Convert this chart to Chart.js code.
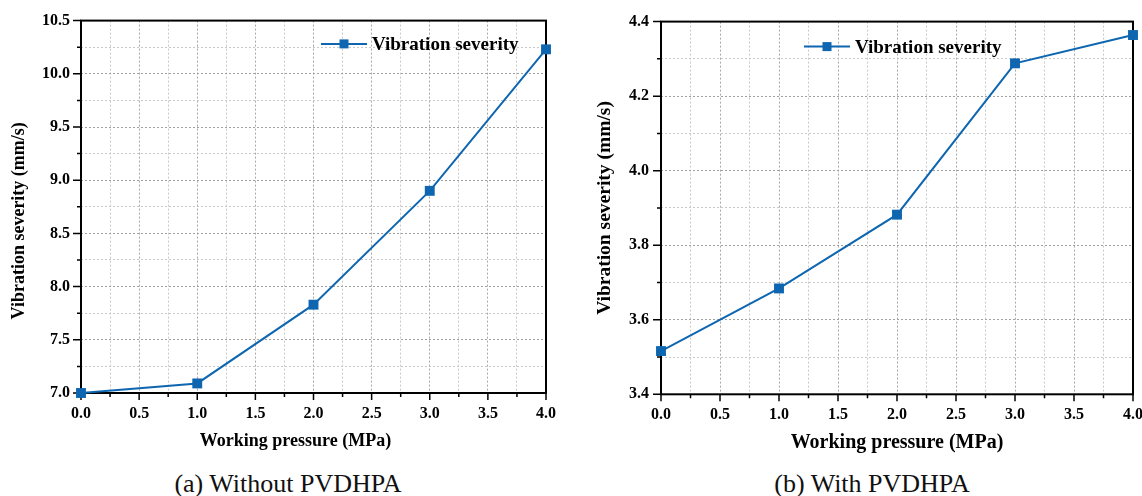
<!DOCTYPE html>
<html>
<head>
<meta charset="utf-8">
<script src="https://cdn.jsdelivr.net/npm/chart.js@4.4.0/dist/chart.umd.min.js"></script>
<style>
  html, body { margin: 0; padding: 0; background: #fff; overflow: hidden; }
  body { width: 1142px; height: 496px; position: relative; font-family: "Liberation Serif", "Times New Roman", serif; }
  .panel { position: absolute; top: 0; height: 455px; }
  #panelA { left: 0; width: 570px; }
  #panelB { left: 580px; width: 580px; }
  .caption { position: absolute; top: 469px; font-size: 26px; line-height: 30px; white-space: nowrap; transform: translateX(-50%); color: #111; }
</style>
</head>
<body>
<div class="panel" id="panelA"><canvas id="chartA"></canvas></div>
<div class="panel" id="panelB"><canvas id="chartB"></canvas></div>
<div class="caption" style="left:288px">(a) Without PVDHPA</div>
<div class="caption" style="left:872px">(b) With PVDHPA</div>

<script>
// Data
const pressure = [0, 1, 2, 3, 4];
const severityWithout = [7.0, 7.09, 7.83, 8.90, 10.23];
const severityWith = [3.516, 3.684, 3.882, 4.288, 4.364];

// Axis ranges / tick steps
const xRange = { min: 0, max: 4, step: 0.25, major: 0.5 };
const yRangeA = { min: 7.0, max: 10.5, step: 0.25, major: 0.5 };
const yRangeB = { min: 3.4, max: 4.4, step: 0.1, major: 0.2 };

const seriesLabel = 'Vibration severity';
const xTitle = 'Working pressure (MPa)';
const yTitle = 'Vibration severity (mm/s)';

const lineColor = '#0e66b0';
const serif = '"Liberation Serif", "Times New Roman", serif';
Chart.defaults.font.family = serif;
Chart.defaults.color = '#000';

function isMajor(v, major) {
    return Math.abs(v / major - Math.round(v / major)) < 1e-6;
}

// frame, outward tick marks and axis titles, drawn under the data
const framePlugin = {
    id: 'frame',
    beforeDatasetsDraw(chart, args, opts) {
        const { ctx, chartArea: a, scales } = chart;
        ctx.save();
        ctx.strokeStyle = '#000';
        ctx.lineWidth = 1.5;
        ctx.beginPath();
        scales.x.ticks.forEach(t => {
            const px = scales.x.getPixelForValue(t.value);
            const len = isMajor(t.value, xRange.major) ? 7 : 4;
            ctx.moveTo(px, a.bottom);
            ctx.lineTo(px, a.bottom + len);
        });
        scales.y.ticks.forEach(t => {
            const py = scales.y.getPixelForValue(t.value);
            const len = isMajor(t.value, opts.yMajor) ? 8 : 4;
            ctx.moveTo(a.left, py);
            ctx.lineTo(a.left - len, py);
        });
        ctx.stroke();
        ctx.lineWidth = 2;
        ctx.strokeRect(a.left, a.top, a.right - a.left, a.bottom - a.top);

        ctx.fillStyle = '#000';
        ctx.textAlign = 'center';
        ctx.textBaseline = 'middle';
        // x-axis title
        ctx.font = 'bold ' + opts.xTitleSize + 'px ' + serif;
        ctx.fillText(xTitle, (a.left + a.right) / 2 + opts.xTitleShift, opts.xTitleY);
        // rotated y-axis title
        ctx.translate(opts.yTitleX, (a.top + a.bottom) / 2 + opts.yTitleShift);
        ctx.rotate(-Math.PI / 2);
        ctx.font = 'bold ' + opts.yTitleSize + 'px ' + serif;
        ctx.fillText(yTitle, 0, 0);
        ctx.restore();
    }
};

// line + square marker legend inside the plot
const legendPlugin = {
    id: 'lineLegend',
    afterDraw(chart, args, opts) {
        const { ctx, chartArea: a } = chart;
        const ds = chart.data.datasets[0];
        const x0 = a.left + opts.dx;
        const y = a.top + opts.dy;
        ctx.save();
        ctx.strokeStyle = ds.borderColor;
        ctx.lineWidth = 2;
        ctx.beginPath();
        ctx.moveTo(x0, y);
        ctx.lineTo(x0 + 46, y);
        ctx.stroke();
        ctx.fillStyle = ds.backgroundColor;
        ctx.fillRect(x0 + 23 - 4.5, y - 4.5, 9, 9);
        ctx.fillStyle = '#000';
        ctx.font = 'bold 19px ' + serif;
        ctx.textBaseline = 'middle';
        ctx.fillText(ds.label, x0 + 51, y + 1);
        ctx.restore();
    }
};

function makeChart(canvasId, values, yRange, lay) {
    const ctx = document.getElementById(canvasId).getContext('2d');
    return new Chart(ctx, {
        type: 'line',
        data: {
            datasets: [{
                label: seriesLabel,
                data: pressure.map((p, i) => ({ x: p, y: values[i] })),
                borderColor: lineColor,
                backgroundColor: lineColor,
                borderWidth: 2,
                pointStyle: 'rect',
                pointRadius: 7,
                pointHoverRadius: 7,
                pointBorderWidth: 0,
                tension: 0,
                clip: false
            }]
        },
        options: {
            responsive: true,
            maintainAspectRatio: false,
            animation: false,
            layout: { padding: { top: lay.top, right: lay.right, bottom: 0, left: 0 } },
            plugins: {
                legend: { display: false },
                tooltip: { enabled: false },
                frame: {
                    yMajor: yRange.major,
                    yTitleX: lay.yTitleX, yTitleShift: lay.yTitleShift, yTitleSize: lay.yTitleSize,
                    xTitleY: lay.xTitleY, xTitleShift: lay.xTitleShift, xTitleSize: lay.xTitleSize
                },
                lineLegend: { dx: lay.legendDx, dy: lay.legendDy }
            },
            scales: {
                x: {
                    type: 'linear',
                    min: xRange.min,
                    max: xRange.max,
                    afterFit: s => { s.height = lay.xHeight; },
                    grid: {
                        drawTicks: false,
                        lineWidth: 1,
                        color: c => (c.tick && isMajor(c.tick.value, xRange.major)) ? '#a8a8a8' : '#c8c8c8'
                    },
                    border: { display: false, dash: [2, 2] },
                    ticks: {
                        stepSize: xRange.step,
                        autoSkip: false,
                        maxRotation: 0,
                        padding: 11,
                        font: { size: 16, weight: 'bold' },
                        callback: v => isMajor(v, xRange.major) ? v.toFixed(1) : ''
                    },
                    title: { display: false }
                },
                y: {
                    type: 'linear',
                    min: yRange.min,
                    max: yRange.max,
                    afterFit: s => { s.width = 81; },
                    grid: {
                        drawTicks: false,
                        lineWidth: 1,
                        color: c => (c.tick && isMajor(c.tick.value, yRange.major)) ? '#a0a0a0' : '#c8c8c8'
                    },
                    border: { display: false, dash: [2, 2] },
                    ticks: {
                        stepSize: yRange.step,
                        autoSkip: false,
                        padding: lay.yTickPad,
                        font: { size: 16, weight: 'bold' },
                        callback: v => isMajor(v, yRange.major) ? v.toFixed(1) : ''
                    },
                    title: { display: false }
                }
            }
        },
        plugins: [framePlugin, legendPlugin]
    });
}

makeChart('chartA', severityWithout, yRangeA, {
    top: 18.7, right: 24, xHeight: 62, yTickPad: 11,
    yTitleX: 19, yTitleShift: 14, yTitleSize: 18,
    xTitleY: 441, xTitleShift: -18, xTitleSize: 18,
    legendDx: 240, legendDy: 23.3
});
makeChart('chartB', severityWith, yRangeB, {
    top: 13.3, right: 27, xHeight: 60.7, yTickPad: 12,
    yTitleX: 25, yTitleShift: 0, yTitleSize: 19.5,
    xTitleY: 443, xTitleShift: 0, xTitleSize: 20,
    legendDx: 143, legendDy: 25
});
</script>
</body>
</html>
